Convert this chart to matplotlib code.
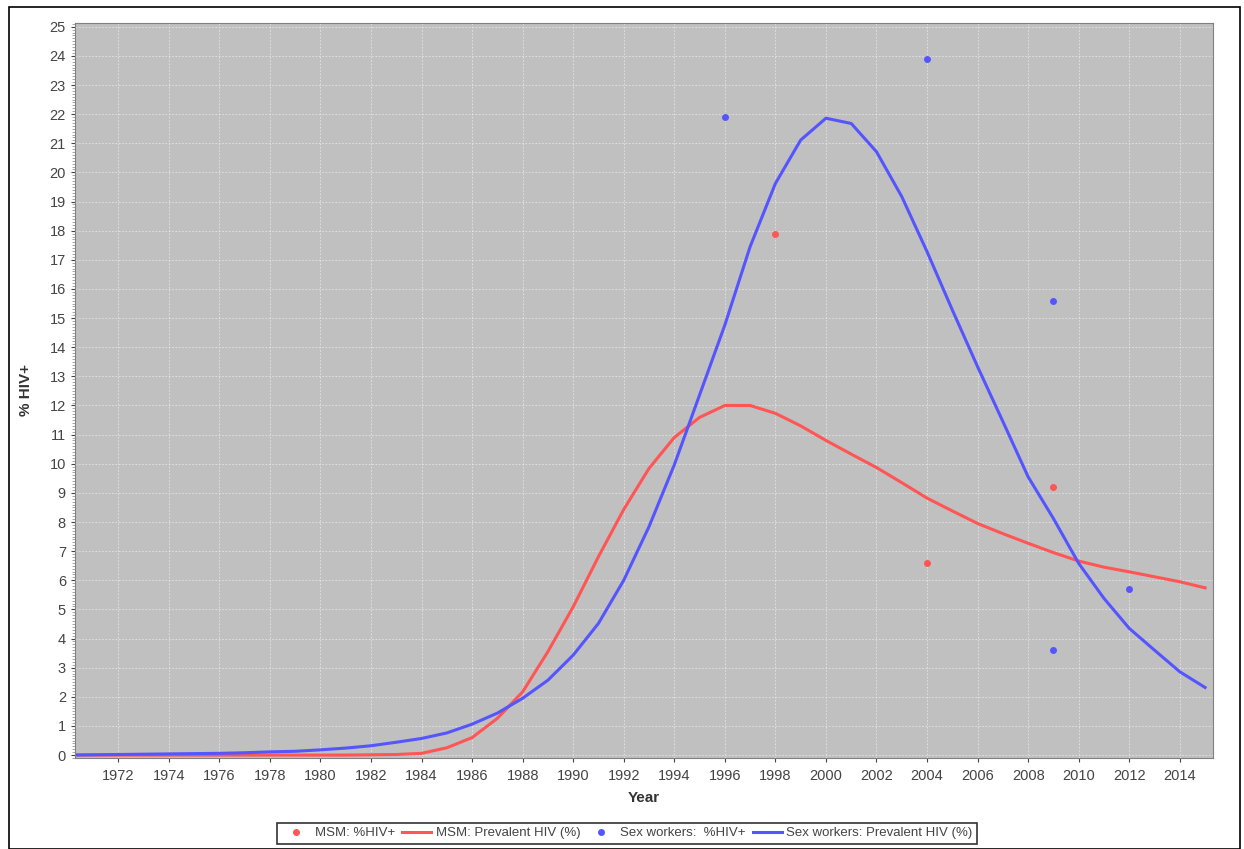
import numpy as np
import matplotlib
matplotlib.use('Agg')
import matplotlib.pyplot as plt
from matplotlib.ticker import MultipleLocator
from matplotlib.patches import Rectangle

plt.rcParams['font.family'] = ['Liberation Sans', 'DejaVu Sans']

# model curves, one value per year 1970..2015
years = list(range(1970, 2016))
msm_prevalent = [0.0, 0.0, 0.0, 0.0, 0.0, 0.0, 0.0, 0.0, 0.0, 0.0,
                 0.0, 0.0, 0.01, 0.02, 0.06, 0.25, 0.6, 1.26, 2.17, 3.55,
                 5.09, 6.81, 8.43, 9.84, 10.9, 11.59, 12.0, 12.0, 11.73, 11.3,
                 10.8, 10.33, 9.87, 9.35, 8.82, 8.38, 7.95, 7.6, 7.27, 6.95,
                 6.66, 6.45, 6.29, 6.12, 5.95, 5.74]
sw_prevalent = [0.0, 0.01, 0.02, 0.03, 0.04, 0.05, 0.06, 0.08, 0.11, 0.13,
                0.18, 0.24, 0.32, 0.44, 0.57, 0.76, 1.06, 1.44, 1.95, 2.57,
                3.43, 4.52, 6.0, 7.84, 9.96, 12.36, 14.76, 17.45, 19.62, 21.11,
                21.86, 21.68, 20.71, 19.17, 17.28, 15.28, 13.33, 11.45, 9.55, 8.12,
                6.58, 5.38, 4.35, 3.6, 2.86, 2.32]

# survey points
msm_obs_years = [1998, 2004, 2009]
msm_obs = [17.9, 6.6, 9.2]
sw_obs_years = [1996, 2004, 2009, 2009, 2012]
sw_obs = [21.9, 23.9, 15.6, 3.6, 5.7]

red = "#FF5555"
blue = "#5555FF"
tick_col = "#444444"

fig = plt.figure(figsize=(12.44, 8.49), dpi=100)
fig.patches.append(Rectangle((0.007, 0.0), 0.99, 0.992, transform=fig.transFigure,
                             fill=False, edgecolor="black", linewidth=1.2))
ax = fig.add_axes([0.0603, 0.1072, 0.9147, 0.8661])
ax.set_facecolor("#C0C0C0")

ax.plot(msm_obs_years, msm_obs, 'o', color=red, markersize=4, label="MSM: %HIV+")
ax.plot(years, msm_prevalent, color=red, linewidth=2.2, label="MSM: Prevalent HIV (%)")
ax.plot(sw_obs_years, sw_obs, 'o', color=blue, markersize=4, label="Sex workers:  %HIV+")
ax.plot(years, sw_prevalent, color=blue, linewidth=2.2, label="Sex workers: Prevalent HIV (%)")

ax.set_xlim(1970.29, 2015.31)
ax.set_ylim(-0.1, 25.14)
ax.set_xticks(range(1972, 2015, 2))
ax.yaxis.set_major_locator(MultipleLocator(1))
ax.yaxis.set_minor_locator(MultipleLocator(0.1))
ax.tick_params(axis='both', colors=tick_col, labelsize=10.5, length=3, direction='out')
ax.tick_params(axis='x', pad=5)
ax.tick_params(axis='y', which='minor', length=2, colors="#999999")
ax.grid(True, color="#EEEEEE", linestyle=(0, (2, 2)), linewidth=0.6, alpha=0.8)
ax.set_axisbelow(True)
for s in ax.spines.values():
    s.set_color("#808080")

ax.set_xlabel("Year", fontsize=11, fontweight='bold', color="#333333", labelpad=6)
ax.set_ylabel("% HIV+", fontsize=11, fontweight='bold', color="#333333", labelpad=12)

leg = fig.legend(loc='lower center', bbox_to_anchor=(0.504, -0.002), ncol=4,
                 fontsize=9.5, frameon=True, fancybox=False, handlelength=2.2,
                 handletextpad=0.35, columnspacing=0.5, borderpad=0.35)
leg.get_frame().set_edgecolor("black")
leg.get_frame().set_linewidth(1.2)
for t in leg.get_texts():
    t.set_color(tick_col)

fig.savefig("out.png", dpi=100)
